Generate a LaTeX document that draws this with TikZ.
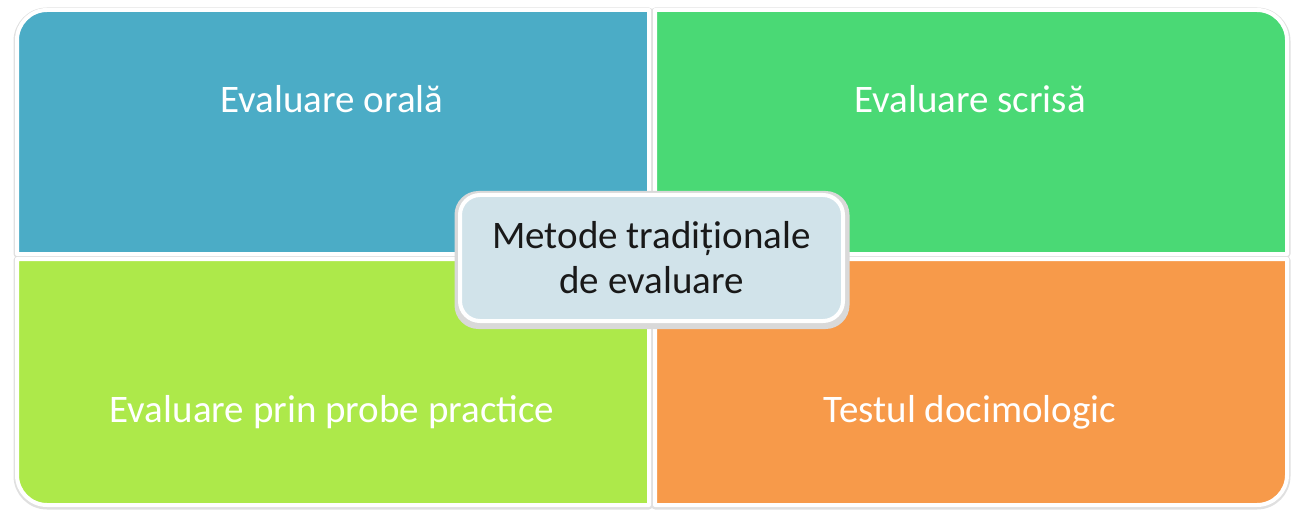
\documentclass[tikz,border=0pt]{standalone}
\usepackage{fontspec}
\setmainfont{Carlito}
\usepackage{tikz}

\definecolor{quadblue}{HTML}{4BACC6}
\definecolor{quadgreen}{HTML}{4AD975}
\definecolor{quadlime}{HTML}{ADE94A}
\definecolor{quadorange}{HTML}{F79A4A}
\definecolor{centerfill}{HTML}{D1E3EA}

\tikzset{
  quadshadow/.style={draw=black!12, line width=7pt, line join=round},
  quad/.style={draw=white, line width=4pt, line join=round},
  quadlabel/.style={text=white, font=\fontsize{39}{45}\selectfont},
}

\begin{document}
\begin{tikzpicture}[x=1pt, y=-1pt]
\useasboundingbox (0,0) rectangle (1301,513);
% shadows
\draw[quadshadow] (649,254) -- (649,11) -- (47,11) .. controls (30.4,11) and (17,24.6) .. (17,41) -- (17,254) -- cycle;
\draw[quadshadow] (655,254) -- (655,11) -- (1257,11) .. controls (1273.6,11) and (1287,24.6) .. (1287,41) -- (1287,254) -- cycle;
\draw[quadshadow] (649,260) -- (649,506) -- (47,506) .. controls (30.4,506) and (17,492.4) .. (17,476) -- (17,260) -- cycle;
\draw[quadshadow] (655,260) -- (1287,260) -- (1287,476) .. controls (1287,492.4) and (1273.6,506) .. (1257,506) -- (655,506) -- cycle;
% quadrants
\draw[quad, fill=quadblue] (649,254) -- (649,10) -- (47,10) .. controls (30.4,10) and (17,23.6) .. (17,40) -- (17,254) -- cycle;
\draw[quad, fill=quadgreen] (655,254) -- (655,10) -- (1257,10) .. controls (1273.6,10) and (1287,23.6) .. (1287,40) -- (1287,254) -- cycle;
\draw[quad, fill=quadlime] (649,259) -- (649,505) -- (47,505) .. controls (30.4,505) and (17,491.4) .. (17,475) -- (17,259) -- cycle;
\draw[quad, fill=quadorange] (655,259) -- (1287,259) -- (1287,475) .. controls (1287,491.4) and (1273.6,505) .. (1257,505) -- (655,505) -- cycle;
% labels
\node[quadlabel] (oral) at (332,99) {Evaluare orală};
\node[quadlabel] (scris) at (970,99) {Evaluare scrisă};
\node[quadlabel] (practic) at (332,412) {Evaluare prin probe practice};
\node[quadlabel] (test) at (970,412) {Testul docimologic};
% center
\node[draw=black!15, line width=8pt, rounded corners=20pt, minimum width=387pt, minimum height=130pt] (shadow) at (652,260) {};
\node[draw=white, line width=4pt, fill=centerfill, rounded corners=20pt,
      minimum width=383pt, minimum height=126pt, align=center,
      text=black!90, font=\fontsize{39}{45}\selectfont] (metode) at (651.5,258) {Metode tradiționale\\de evaluare};
\end{tikzpicture}
\end{document}
